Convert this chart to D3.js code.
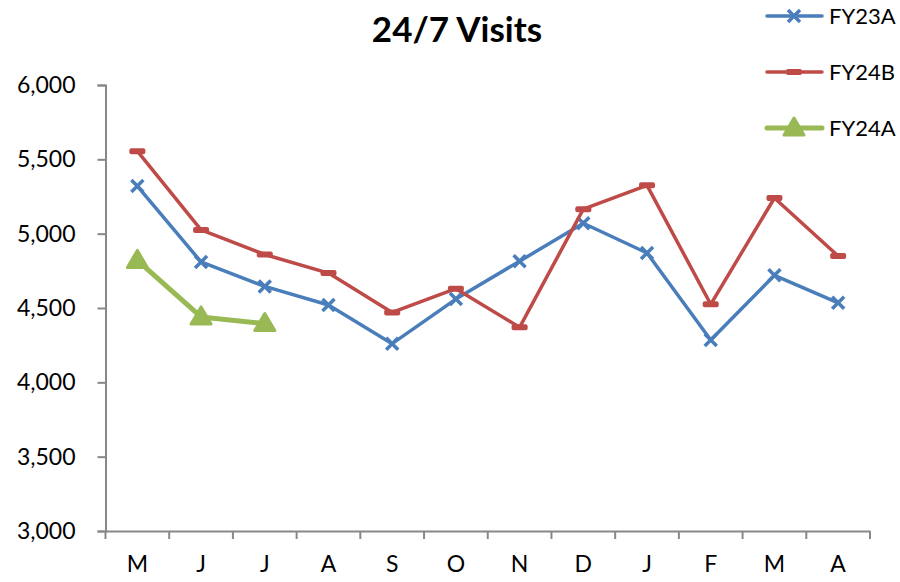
<!DOCTYPE html>
<html><head><meta charset="utf-8">
<script src="https://cdn.jsdelivr.net/npm/d3@7"></script>
<style>body{margin:0;background:#fff;font-family:Lato,"Open Sans",sans-serif;}</style>
</head><body><svg id="c" width="900" height="582"></svg>
<script>
const months = ["M","J","J","A","S","O","N","D","J","F","M","A"];
const fy23a = [5320,4810,4645,4520,4260,4560,4815,5070,4870,4285,4720,4535];
const fy24b = [5555,5025,4860,4735,4470,4630,4370,5165,5325,4525,5240,4850];
const fy24a = [4820,4440,4395];
const yTicks = [3000,3500,4000,4500,5000,5500,6000];
const seriesNames = ["FY23A","FY24B","FY24A"];
const colors = ["#4a7ebb","#be4b48","#98b954"];

const svg = d3.select("#c");
const x = d3.scaleBand().domain(d3.range(months.length)).range([105.5,870]);
const y = d3.scaleLinear().domain([3000,6000]).range([531,85]);
const cx = i => x(i) + x.bandwidth()/2;

svg.append("text").attr("x",457).attr("y",42).attr("text-anchor","middle")
  .style("font-weight","bold").style("font-size","35px").text("24/7 Visits");

// y axis
const ya = svg.append("g").attr("transform","translate(105.5,0)")
  .call(d3.axisLeft(y).tickValues(yTicks).tickSize(8).tickPadding(22).tickFormat(d3.format(",")));
ya.select(".domain").attr("stroke","#888").attr("stroke-width",2);
ya.selectAll(".tick line").attr("stroke","#888").attr("stroke-width",2);
ya.selectAll(".tick text").style("font-size","23px").style("font-family","Lato,sans-serif").attr("fill","#000");

// x axis
const xa = svg.append("g").attr("transform","translate(0,531)")
  .call(d3.axisBottom(x).tickFormat(i=>months[i]).tickSize(0).tickPadding(25));
xa.select(".domain").attr("stroke","#888").attr("stroke-width",2);
xa.selectAll(".tick text").style("font-size","23px").style("font-family","Lato,sans-serif").attr("fill","#000");
const bounds = d3.range(months.length+1).map(i => i<months.length ? x(i) : x.range()[1]);
svg.append("g").selectAll("line").data(bounds).join("line")
  .attr("x1",d=>d).attr("x2",d=>d).attr("y1",531).attr("y2",539)
  .attr("stroke","#888").attr("stroke-width",2);

const line = d3.line().x((d,i)=>cx(i)).y(d=>y(d));
const data = [fy23a,fy24b,fy24a];
const widths = [3.5,3.5,5];

function marker(g, k, px, py){
  if(k===0){
    const s=6;
    g.append("path").attr("d",`M${px-s},${py-s}L${px+s},${py+s}M${px-s},${py+s}L${px+s},${py-s}`)
      .attr("stroke",colors[0]).attr("stroke-width",3.5).attr("fill","none");
  } else if(k===1){
    g.append("rect").attr("x",px-8).attr("y",py-3).attr("width",16).attr("height",6).attr("rx",2)
      .attr("fill",colors[1]);
  } else {
    g.append("path").attr("d",`M${px},${py-10}L${px+10},${py+7}L${px-10},${py+7}Z`)
      .attr("fill",colors[2]).attr("stroke",colors[2]).attr("stroke-width",3).attr("stroke-linejoin","round");
  }
}

data.forEach((arr,k)=>{
  const g = svg.append("g");
  g.append("path").datum(arr).attr("d",line).attr("fill","none")
    .attr("stroke",colors[k]).attr("stroke-width",widths[k]).attr("stroke-linejoin","round");
  arr.forEach((v,i)=>marker(g,k,cx(i),y(v)));
});

// legend
seriesNames.forEach((n,k)=>{
  const ly = 16 + k*56;
  const g = svg.append("g");
  g.append("line").attr("x1",767).attr("x2",822).attr("y1",ly).attr("y2",ly)
    .attr("stroke",colors[k]).attr("stroke-width",widths[k]).attr("stroke-linecap","round");
  marker(g,k,794,ly);
  g.append("text").attr("x",829).attr("y",ly+8).style("font-size","22px").text(n);
});
</script></body></html>
